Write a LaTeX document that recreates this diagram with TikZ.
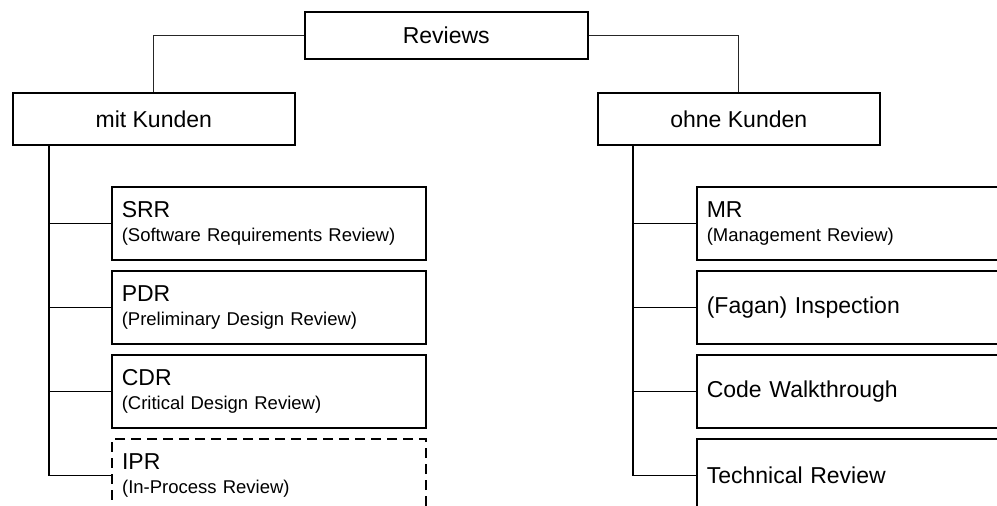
\documentclass[tikz,border=0pt]{standalone}
\usepackage{fontspec}
\setmainfont{Liberation Sans}
\newcommand{\bigtxt}{\fontsize{23}{24}\selectfont}
\newcommand{\smalltxt}{\fontsize{18.5}{24}\selectfont}
\begin{document}
\begin{tikzpicture}[x=1pt,y=-1pt,
  frame/.style={draw, line width=1.6pt, rectangle, inner sep=0pt, anchor=north west, font=\bigtxt},
  headbox/.style={frame, minimum width=#1, align=center},
  leaf/.style={frame, minimum width=314pt, minimum height=73pt, text width=294pt, inner xsep=10pt, align=left, font=\smalltxt},
  optional/.style={dash pattern=on 10pt off 6pt, line width=2.2pt},
  link/.style={line width=1pt, draw=black!85},
  trunk/.style={line width=1.4pt},
]
\useasboundingbox (0,0) rectangle (997,506);
\clip (0,0) rectangle (997,506);

% top level and the two groups
\node[headbox=283pt, minimum height=47pt] (rev) at (304,11) {Reviews};
\node[headbox=282pt, minimum height=52pt] (mit) at (12,92) {mit Kunden};
\node[headbox=282pt, minimum height=52pt] (ohne) at (597,92) {ohne Kunden};

\draw[link] (rev.west) -| (mit.north);
\draw[link] (rev.east) -| (ohne.north);

% reviews with the customer
\node[leaf] (srr) at (111,186) {\bigtxt SRR\\\smalltxt (Software Requirements Review)};
\node[leaf] (pdr) at (111,270) {\bigtxt PDR\\\smalltxt (Preliminary Design Review)};
\node[leaf] (cdr) at (111,354) {\bigtxt CDR\\\smalltxt (Critical Design Review)};
\node[leaf, optional] (ipr) at (111,438) {\bigtxt IPR\\\smalltxt (In-Process Review)};

\coordinate (lt) at ([xshift=37pt]mit.south west);
\draw[trunk] (lt) |- (ipr.west);
\foreach \n in {srr,pdr,cdr} \draw[trunk] (lt |- \n.west) -- (\n.west);

% reviews without the customer
\node[leaf] (mr) at (696,186) {\bigtxt MR\\\smalltxt (Management Review)};
\node[leaf, font=\bigtxt] (fagan) at (696,270) {(Fagan) Inspection};
\node[leaf, font=\bigtxt] (walk) at (696,354) {Code Walkthrough};
\node[leaf, font=\bigtxt] (tech) at (696,438) {Technical Review};

\coordinate (rt) at ([xshift=36pt]ohne.south west);
\draw[trunk] (rt) |- (tech.west);
\foreach \n in {mr,fagan,walk} \draw[trunk] (rt |- \n.west) -- (\n.west);
\end{tikzpicture}
\end{document}
